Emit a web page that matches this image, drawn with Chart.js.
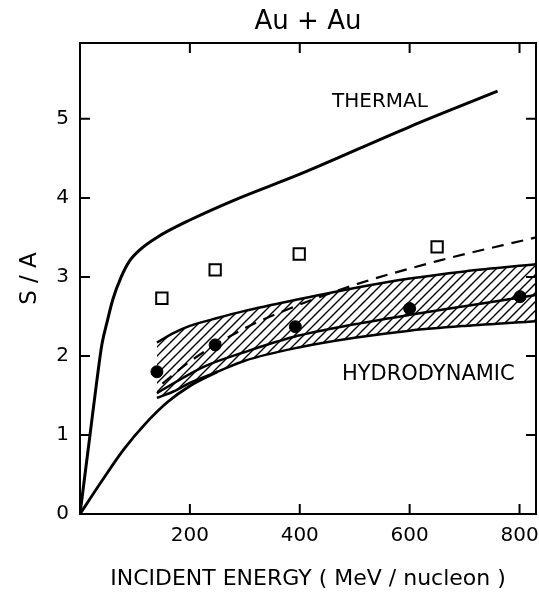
<!DOCTYPE html>
<html>
<head>
<meta charset="utf-8">
<script src="https://cdn.jsdelivr.net/npm/chart.js@4.4.0/dist/chart.umd.min.js"></script>
<style>
  html, body { margin: 0; padding: 0; background: #fff; overflow: hidden; }
  #wrap { width: 539px; height: 592px; overflow: hidden; }
</style>
</head>
<body>
<div id="wrap"><canvas id="sChart" width="546" height="592"></canvas></div>
<script>
// thermal model curve
const thermalX = [0, 10, 20, 30, 40, 50, 60, 75, 90, 110, 140, 200, 280, 400, 600, 760];
const thermalY = [0, 0.55, 1.1, 1.65, 2.15, 2.45, 2.72, 3.0, 3.2, 3.35, 3.5, 3.72, 3.97, 4.3, 4.9, 5.35];

// lower curve starting at the origin, runs into the band
const originX = [0, 40, 80, 120, 160, 200, 250];
const originY = [0, 0.42, 0.82, 1.15, 1.42, 1.62, 1.8];

// hydrodynamic band (hatched)
const bandX = [140, 170, 200, 250, 300, 400, 500, 600, 700, 830];
const bandUpper = [2.17, 2.29, 2.38, 2.48, 2.57, 2.72, 2.86, 2.98, 3.07, 3.16];
const bandLower = [1.47, 1.55, 1.66, 1.8, 1.94, 2.11, 2.23, 2.32, 2.38, 2.44];

// middle solid line through the band
const midX = [140, 224, 300, 388, 500, 601, 700, 830];
const midY = [1.53, 1.86, 2.05, 2.24, 2.4, 2.52, 2.63, 2.77];

// dashed curve
const dashX = [150, 200, 300, 400, 500, 650, 830];
const dashY = [1.65, 1.93, 2.35, 2.65, 2.9, 3.2, 3.5];

// measured points
const dotsX = [140, 246, 392, 600, 801];
const dotsY = [1.8, 2.14, 2.37, 2.6, 2.75];
const squaresX = [149, 246, 399, 650];
const squaresY = [2.73, 3.09, 3.29, 3.38];

const xTicks = [200, 400, 600, 800];
const yTicks = [0, 1, 2, 3, 4, 5];

const FONT = 'DejaVu Sans';

function pts(xs, ys) {
    return xs.map((x, i) => ({ x: x, y: ys[i] }));
}

function hatch() {
    const c = document.createElement('canvas');
    c.width = 9; c.height = 9;
    const g = c.getContext('2d');
    g.strokeStyle = '#000';
    g.lineWidth = 1.4;
    g.beginPath();
    g.moveTo(0, 9); g.lineTo(9, 0);
    g.moveTo(-2, 2); g.lineTo(2, -2);
    g.moveTo(7, 11); g.lineTo(11, 7);
    g.stroke();
    return g.createPattern(c, 'repeat');
}

// frame, inward ticks on all sides, and text labels
const framePlugin = {
    id: 'frame',
    afterDraw(chart) {
        const ctx = chart.ctx;
        const a = chart.chartArea;
        const xs = chart.scales.x, ys = chart.scales.y;
        ctx.save();
        ctx.strokeStyle = '#000';
        ctx.lineWidth = 2;
        ctx.strokeRect(a.left, a.top, a.right - a.left, a.bottom - a.top);
        ctx.beginPath();
        xTicks.forEach(v => {
            const px = xs.getPixelForValue(v);
            ctx.moveTo(px, a.bottom); ctx.lineTo(px, a.bottom - 10);
            ctx.moveTo(px, a.top); ctx.lineTo(px, a.top + 10);
        });
        yTicks.slice(1).forEach(v => {
            const py = ys.getPixelForValue(v);
            ctx.moveTo(a.left, py); ctx.lineTo(a.left + 10, py);
            ctx.moveTo(a.right, py); ctx.lineTo(a.right - 10, py);
        });
        ctx.stroke();

        ctx.fillStyle = '#000';
        ctx.textAlign = 'center';
        ctx.textBaseline = 'middle';
        ctx.font = '26px ' + FONT;
        ctx.fillText('Au + Au', 308, 22);
        ctx.font = '20px ' + FONT;
        ctx.fillText('THERMAL', xs.getPixelForValue(546), ys.getPixelForValue(5.22));
        ctx.font = '21px ' + FONT;
        ctx.fillText('HYDRODYNAMIC', xs.getPixelForValue(634), ys.getPixelForValue(1.76));
        ctx.restore();
    }
};

const ctx = document.getElementById('sChart').getContext('2d');

new Chart(ctx, {
    type: 'scatter',
    data: {
        datasets: [
            {
                label: 'band upper',
                data: pts(bandX, bandUpper),
                showLine: true,
                borderColor: '#000',
                borderWidth: 2.5,
                pointRadius: 0,
                backgroundColor: hatch(),
                fill: '+1',
                cubicInterpolationMode: 'monotone'
            },
            {
                label: 'band lower',
                data: pts(bandX, bandLower),
                showLine: true,
                borderColor: '#000',
                borderWidth: 2.5,
                pointRadius: 0,
                fill: false,
                cubicInterpolationMode: 'monotone'
            },
            {
                label: 'origin curve',
                data: pts(originX, originY),
                showLine: true,
                borderColor: '#000',
                borderWidth: 2.8,
                pointRadius: 0,
                fill: false,
                cubicInterpolationMode: 'monotone'
            },
            {
                label: 'middle',
                data: pts(midX, midY),
                showLine: true,
                borderColor: '#000',
                borderWidth: 2.5,
                pointRadius: 0,
                fill: false,
                cubicInterpolationMode: 'monotone'
            },
            {
                label: 'dashed',
                data: pts(dashX, dashY),
                showLine: true,
                borderColor: '#000',
                borderWidth: 2.2,
                borderDash: [12, 8],
                pointRadius: 0,
                fill: false,
                cubicInterpolationMode: 'monotone'
            },
            {
                label: 'thermal',
                data: pts(thermalX, thermalY),
                showLine: true,
                borderColor: '#000',
                borderWidth: 3,
                pointRadius: 0,
                fill: false,
                cubicInterpolationMode: 'monotone'
            },
            {
                label: 'squares',
                data: pts(squaresX, squaresY),
                pointStyle: 'rect',
                pointRadius: 8,
                borderColor: '#000',
                borderWidth: 2,
                backgroundColor: '#fff'
            },
            {
                label: 'dots',
                data: pts(dotsX, dotsY),
                pointStyle: 'circle',
                pointRadius: 6,
                borderColor: '#000',
                borderWidth: 1,
                backgroundColor: '#000'
            }
        ]
    },
    options: {
        responsive: false,
        animation: false,
        layout: { padding: { top: 43, right: 0, left: 0, bottom: 0 } },
        plugins: {
            legend: { display: false },
            tooltip: { enabled: false }
        },
        scales: {
            x: {
                type: 'linear',
                min: 0,
                max: 830,
                afterBuildTicks: s => { s.ticks = xTicks.map(v => ({ value: v })); },
                afterFit: s => { s.height = 78; s.paddingRight = 0; s.paddingLeft = 0; },
                grid: { display: false },
                border: { display: false },
                ticks: {
                    autoSkip: false,
                    maxRotation: 0,
                    padding: 2,
                    color: '#000',
                    font: { family: FONT, size: 20 }
                },
                title: {
                    display: true,
                    text: 'INCIDENT ENERGY ( MeV / nucleon )',
                    color: '#000',
                    font: { family: FONT, size: 22 },
                    padding: { top: 0, bottom: 0 }
                }
            },
            y: {
                type: 'linear',
                min: 0,
                max: 5.96,
                afterBuildTicks: s => { s.ticks = yTicks.map(v => ({ value: v })); },
                afterFit: s => { s.width = 80; },
                grid: { display: false },
                border: { display: false },
                ticks: {
                    padding: 3,
                    color: '#000',
                    font: { family: FONT, size: 20 }
                },
                title: {
                    display: true,
                    text: 'S / A',
                    color: '#000',
                    font: { family: FONT, size: 23 },
                    padding: { top: 16, bottom: 0 }
                }
            }
        }
    },
    plugins: [framePlugin]
});
</script>
</body>
</html>
